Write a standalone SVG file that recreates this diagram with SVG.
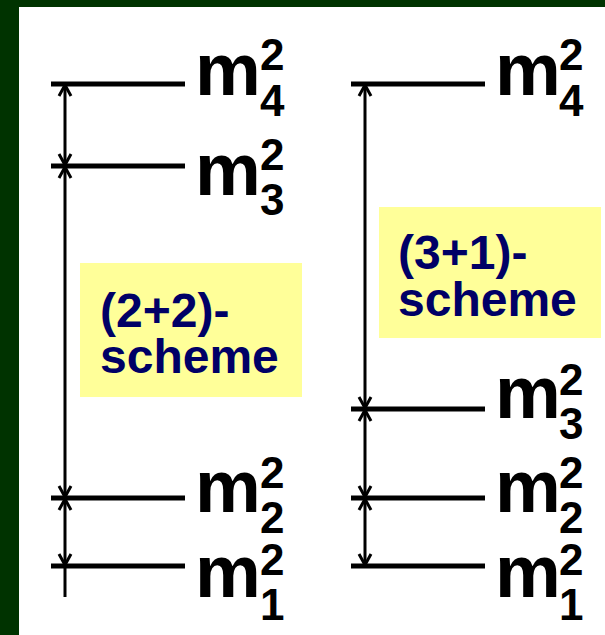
<svg xmlns="http://www.w3.org/2000/svg" width="605" height="635" viewBox="0 0 605 635">
  <style>
    .lvl { stroke: #000; stroke-width: 5; }
    .vert { stroke: #000; stroke-width: 3; fill: none; }
    .lab { font-family: "Liberation Sans", Arial, sans-serif; font-weight: bold; font-size: 74px; fill: #000; }
    .d { font-size: 44px; }
    .box { fill: #FFFF99; }
    .bt { font-family: "Liberation Sans", Arial, sans-serif; font-weight: bold; font-size: 48px; fill: #000066; }
  </style>
  <defs>
    <marker id="arr" viewBox="-14 -8 16 16" refX="0" refY="0" markerWidth="16" markerHeight="16" markerUnits="userSpaceOnUse" orient="auto-start-reverse">
      <path d="M-12,-6 L-1,0 L-12,6" fill="none" stroke="#000" stroke-width="3"/>
    </marker>
  </defs>

  <rect x="0" y="0" width="605" height="635" fill="#003300"/>
  <rect x="19" y="7" width="586" height="628" fill="#FFFFFF"/>

  <!-- left scheme levels -->
  <g id="L-m4">
    <line class="lvl" x1="51" y1="84" x2="185" y2="84"/>
    <text class="lab" x="195" y="95">m<tspan class="d" x="260" y="70">2</tspan><tspan class="d" x="260" y="116">4</tspan></text>
  </g>
  <g id="L-m3">
    <line class="lvl" x1="51" y1="166" x2="185" y2="166"/>
    <text class="lab" x="195" y="195">m<tspan class="d" x="260" y="170">2</tspan><tspan class="d" x="260" y="215">3</tspan></text>
  </g>
  <g id="L-m2">
    <line class="lvl" x1="51" y1="498" x2="185" y2="498"/>
    <text class="lab" x="195" y="512">m<tspan class="d" x="260" y="488">2</tspan><tspan class="d" x="260" y="533">2</tspan></text>
  </g>
  <g id="L-m1">
    <line class="lvl" x1="51" y1="566" x2="185" y2="566"/>
    <text class="lab" x="195" y="597">m<tspan class="d" x="260" y="575">2</tspan><tspan class="d" x="260" y="620">1</tspan></text>
  </g>
  <g id="L-box">
    <rect class="box" x="80" y="263" width="222" height="134"/>
    <text class="bt" x="100" y="327">(2+2)-</text>
    <text class="bt" x="100" y="373">scheme</text>
  </g>

  <!-- right scheme levels -->
  <g id="R-m4">
    <line class="lvl" x1="351" y1="84" x2="485" y2="84"/>
    <text class="lab" x="495" y="95">m<tspan class="d" x="559" y="70">2</tspan><tspan class="d" x="559" y="116">4</tspan></text>
  </g>
  <g id="R-m3">
    <line class="lvl" x1="351" y1="409" x2="485" y2="409"/>
    <text class="lab" x="495" y="418">m<tspan class="d" x="559" y="395">2</tspan><tspan class="d" x="559" y="439">3</tspan></text>
  </g>
  <g id="R-m2">
    <line class="lvl" x1="351" y1="498" x2="485" y2="498"/>
    <text class="lab" x="495" y="512">m<tspan class="d" x="559" y="488">2</tspan><tspan class="d" x="559" y="533">2</tspan></text>
  </g>
  <g id="R-m1">
    <line class="lvl" x1="351" y1="566" x2="485" y2="566"/>
    <text class="lab" x="495" y="597">m<tspan class="d" x="559" y="575">2</tspan><tspan class="d" x="559" y="620">1</tspan></text>
  </g>
  <g id="R-box">
    <rect class="box" x="379" y="207" width="222" height="131"/>
    <text class="bt" x="398" y="269">(3+1)-</text>
    <text class="bt" x="398" y="316">scheme</text>
  </g>

  <!-- connectors -->
  <g id="connectors">
    <line class="vert" x1="65" y1="84" x2="65" y2="166" marker-start="url(#arr)" marker-end="url(#arr)"/>
    <line class="vert" x1="65" y1="166" x2="65" y2="498" marker-start="url(#arr)" marker-end="url(#arr)"/>
    <line class="vert" x1="65" y1="498" x2="65" y2="566" marker-start="url(#arr)" marker-end="url(#arr)"/>
    <line class="vert" x1="65" y1="566" x2="65" y2="597"/>
    <line class="vert" x1="365" y1="84" x2="365" y2="409" marker-start="url(#arr)" marker-end="url(#arr)"/>
    <line class="vert" x1="365" y1="409" x2="365" y2="498" marker-start="url(#arr)" marker-end="url(#arr)"/>
    <line class="vert" x1="365" y1="498" x2="365" y2="566" marker-start="url(#arr)" marker-end="url(#arr)"/>
  </g>
</svg>
